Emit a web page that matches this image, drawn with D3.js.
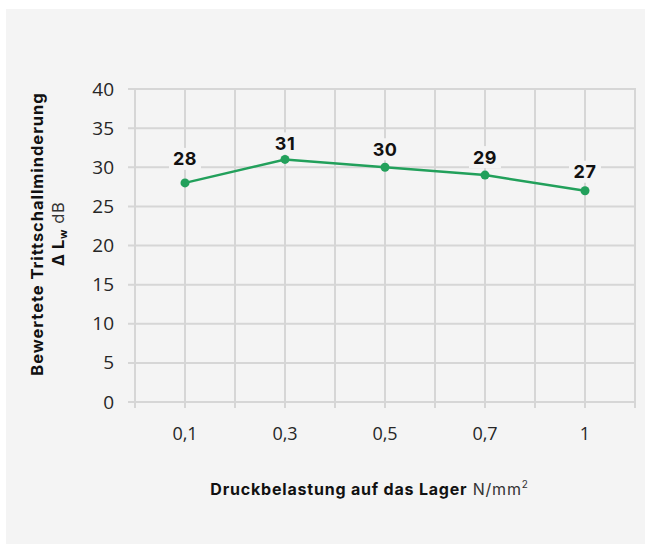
<!DOCTYPE html>
<html>
<head>
<meta charset="utf-8">
<script src="https://cdn.jsdelivr.net/npm/d3@7"></script>
<style>
  html, body { margin: 0; padding: 0; background: #ffffff; }
  svg { display: block; }
</style>
</head>
<body>
<svg id="chart" width="645" height="544"></svg>
<script>
// Pressure load categories (N/mm²) and weighted impact sound reduction ΔLw (dB)
const categories = ["0,1", "0,3", "0,5", "0,7", "1"];
const reduction = [28, 31, 30, 29, 27];
const yTicks = [0, 5, 10, 15, 20, 25, 30, 35, 40];

// vertical gap (px) between each point and its value label
const labelGap = [24, 16, 18, 18, 19];

const W = 645, H = 544;
const plot = { left: 135, right: 635, top: 89, bottom: 402 };

const svg = d3.select("#chart");

// light panel behind the chart
svg.append("rect")
  .attr("x", 6).attr("y", 9)
  .attr("width", W - 6).attr("height", H - 9)
  .attr("fill", "#f4f4f4");

const x = d3.scaleBand().domain(categories).range([plot.left, plot.right]).padding(0);
const y = d3.scaleLinear().domain([0, 40]).range([plot.bottom, plot.top]);
const cx = d => x(d) + x.bandwidth() / 2;

const gridColor = "#d6d6d6";

// vertical grid: band edges and band centres, each running a little below the axis
const vLines = [];
categories.forEach(c => { vLines.push(x(c)); vLines.push(cx(c)); });
vLines.push(plot.right);
svg.append("g").selectAll("line").data(vLines).join("line")
  .attr("x1", d => d).attr("x2", d => d)
  .attr("y1", plot.top).attr("y2", plot.bottom + 6)
  .attr("stroke", gridColor).attr("stroke-width", 2);

// horizontal grid with short ticks to the left
svg.append("g").selectAll("line").data(yTicks).join("line")
  .attr("x1", plot.left - 7).attr("x2", plot.right + 1)
  .attr("y1", d => y(d)).attr("y2", d => y(d))
  .attr("stroke", gridColor).attr("stroke-width", 2);

// y axis labels
const yAxis = d3.axisLeft(y).tickValues(yTicks).tickSize(0).tickPadding(0);
const gy = svg.append("g").attr("transform", `translate(${plot.left - 21},0)`).call(yAxis);
gy.select(".domain").remove();
gy.selectAll("text")
  .attr("font-family", "'Open Sans', sans-serif")
  .attr("font-size", 19).attr("fill", "#262626");

// x axis labels
const xAxis = d3.axisBottom(x).tickSize(0).tickPadding(0);
const gx = svg.append("g").attr("transform", `translate(0,${plot.bottom + 25})`).call(xAxis);
gx.select(".domain").remove();
gx.selectAll("text")
  .attr("font-family", "'Open Sans', sans-serif")
  .attr("font-size", 18).attr("fill", "#262626");

// data line
const green = "#22a05b";
svg.append("path")
  .datum(reduction)
  .attr("fill", "none").attr("stroke", green).attr("stroke-width", 2.5)
  .attr("d", d3.line().x((d, i) => cx(categories[i])).y(d => y(d)));

svg.append("g").selectAll("circle").data(reduction).join("circle")
  .attr("cx", (d, i) => cx(categories[i])).attr("cy", d => y(d))
  .attr("r", 4.5).attr("fill", green);

// value labels with a panel-coloured backing
const lbl = svg.append("g").selectAll("g").data(reduction).join("g")
  .attr("transform", (d, i) => `translate(${cx(categories[i])},${y(d) - labelGap[i]})`);
lbl.append("rect")
  .attr("x", -16).attr("y", -11).attr("width", 32).attr("height", 22)
  .attr("fill", "#f4f4f4");
lbl.append("text")
  .attr("text-anchor", "middle").attr("dy", "0.36em")
  .attr("font-family", "Inter, sans-serif").attr("font-weight", 700)
  .attr("font-size", 18).attr("letter-spacing", 0.5).attr("fill", "#111")
  .text(d => d);

// x axis title
const xt = svg.append("text")
  .attr("x", (206 + 533) / 2).attr("y", 495)
  .attr("text-anchor", "middle")
  .attr("font-family", "Inter, sans-serif").attr("font-size", 16)
  .attr("letter-spacing", 0.8).attr("fill", "#111");
xt.append("tspan").attr("font-weight", 700).text("Druckbelastung auf das Lager");
xt.append("tspan").attr("font-weight", 400).attr("fill", "#333").text(" N/mm");
xt.append("tspan").attr("font-weight", 400).attr("fill", "#333")
  .attr("font-size", 10).attr("dy", -7).text("2");

// y axis title, two lines rotated
const yt = svg.append("g").attr("transform", "translate(0,234) rotate(-90)");
yt.append("text")
  .attr("x", 0).attr("y", 43).attr("text-anchor", "middle")
  .attr("font-family", "Inter, sans-serif").attr("font-weight", 700)
  .attr("font-size", 16.5).attr("letter-spacing", 0.95).attr("fill", "#111")
  .text("Bewertete Trittschallminderung");
const yt2 = yt.append("text")
  .attr("x", 0).attr("y", 64).attr("text-anchor", "middle")
  .attr("font-family", "Inter, sans-serif").attr("font-size", 16.5)
  .attr("letter-spacing", 0.6).attr("fill", "#111");
yt2.append("tspan").attr("font-weight", 700).text("Δ L");
yt2.append("tspan").attr("font-weight", 700).attr("font-size", 11).attr("dy", 3).text("w");
yt2.append("tspan").attr("font-weight", 400).attr("fill", "#333").attr("dy", -3).text(" dB");
</script>
</body>
</html>
